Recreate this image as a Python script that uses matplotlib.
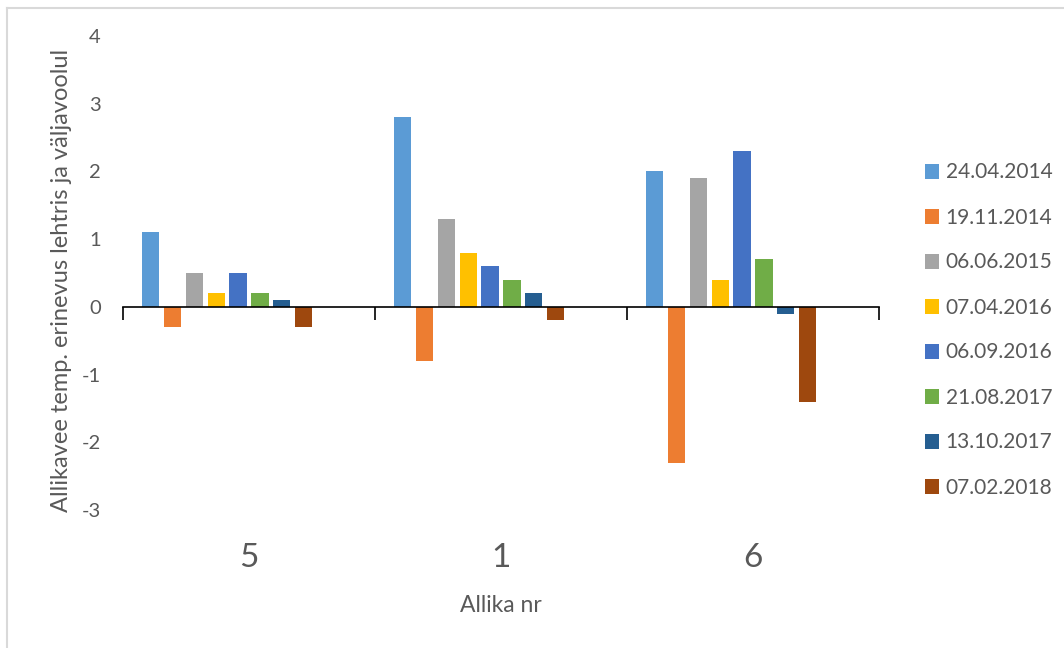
import numpy as np
import matplotlib.pyplot as plt
from matplotlib.lines import Line2D
from matplotlib.patches import Patch
from matplotlib import transforms

plt.rcParams['font.family'] = ['Lato', 'DejaVu Sans']
plt.rcParams['axes.unicode_minus'] = False

# springs (x axis) and measurement dates (series)
springs = ['5', '1', '6']
dates = ['24.04.2014', '19.11.2014', '06.06.2015', '07.04.2016',
         '06.09.2016', '21.08.2017', '13.10.2017', '07.02.2018']
colors = ['#5B9BD5', '#ED7D31', '#A5A5A5', '#FFC000',
          '#4472C4', '#70AD47', '#255E91', '#9E480E']

# temperature difference per date, one value per spring (5, 1, 6)
d_24_04_2014 = [1.1, 2.8, 2.0]
d_19_11_2014 = [-0.3, -0.8, -2.3]
d_06_06_2015 = [0.5, 1.3, 1.9]
d_07_04_2016 = [0.2, 0.8, 0.4]
d_06_09_2016 = [0.5, 0.6, 2.3]
d_21_08_2017 = [0.2, 0.4, 0.7]
d_13_10_2017 = [0.1, 0.2, -0.1]
d_07_02_2018 = [-0.3, -0.2, -1.4]
series = [d_24_04_2014, d_19_11_2014, d_06_06_2015, d_07_04_2016,
          d_06_09_2016, d_21_08_2017, d_13_10_2017, d_07_02_2018]

txt = '#595959'
W, H = 1064, 648
fig = plt.figure(figsize=(W / 100, H / 100), dpi=100)
ax = fig.add_axes([123 / W, 1 - 510 / H, (879 - 123) / W, (510 - 36) / H])

# 10 slots per category with a 150% gap (last two slots are empty)
slot = 1 / 11.5
x = np.arange(len(springs))
for i, (vals, c) in enumerate(zip(series, colors)):
    off = -0.5 + (0.75 + i + 0.5) * slot
    ax.bar(x + off, vals, width=slot * 0.78, color=c, zorder=2)

ax.set_xlim(-0.5, 2.5)
ax.set_ylim(-3, 4)
ax.set_yticks(range(-3, 5))
ax.tick_params(axis='y', length=0, pad=16, labelsize=14.5, labelcolor=txt)

for s in ['top', 'right', 'left']:
    ax.spines[s].set_visible(False)
ax.spines['bottom'].set_position(('data', 0))
ax.spines['bottom'].set_linewidth(1.2)
ax.spines['bottom'].set_color('black')
ax.spines['bottom'].set_zorder(3)
ax.set_xticks([])
ax.set_xticks([-0.5, 0.5, 1.5, 2.5], minor=True)
ax.tick_params(axis='x', which='minor', length=9, width=1.2, color='black',
               direction='out', labelbottom=False)

trans = transforms.blended_transform_factory(ax.transData, fig.transFigure)
for xi, name in zip(x, springs):
    ax.text(xi, 1 - 558 / H, name, transform=trans, ha='center', va='center',
            fontsize=24, color=txt)

fig.text(501 / W, 1 - 605 / H, 'Allika nr', ha='center', va='center',
         fontsize=16.5, color=txt)
fig.text(62 / W, 1 - 280 / H, 'Allikavee temp. erinevus lehtris ja väljavoolul',
         rotation=90, ha='center', va='center', fontsize=17, color=txt)

handles = [Patch(facecolor=c, edgecolor='none') for c in colors]
fig.legend(handles, dates, loc='center left', bbox_to_anchor=(906 / W, 1 - 330 / H),
           frameon=False, fontsize=15, labelcolor=txt, handlelength=0.7,
           handleheight=0.7, handletextpad=0.3, labelspacing=1.2)

# chart frame
fig.add_artist(Line2D([7 / W, 1], [1 - 8 / H] * 2, color='#d9d9d9', lw=1.5))
fig.add_artist(Line2D([7 / W] * 2, [0, 1 - 8 / H], color='#d9d9d9', lw=1.5))

fig.savefig('out.png', dpi=100, facecolor='white')
